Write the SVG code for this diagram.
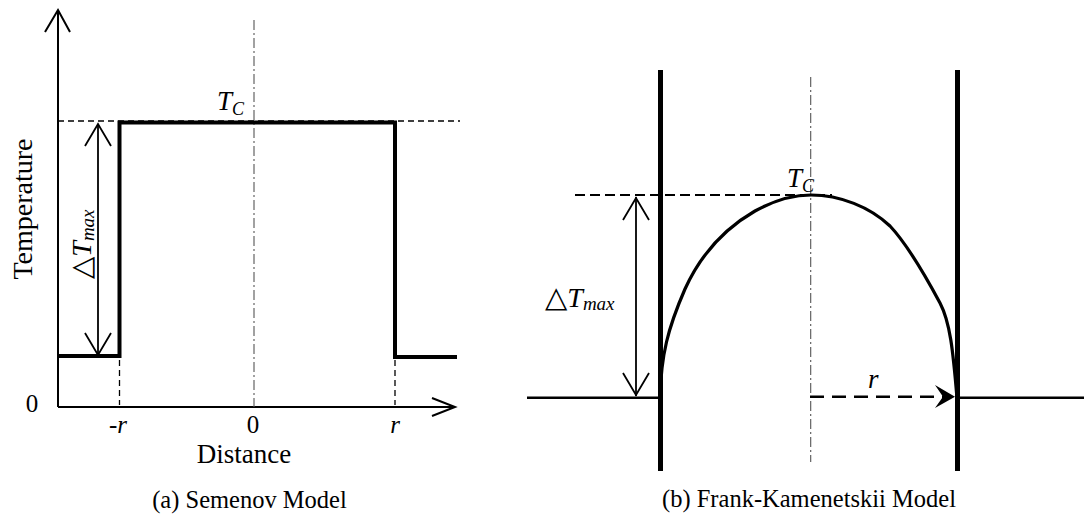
<svg xmlns="http://www.w3.org/2000/svg" width="1084" height="523" viewBox="0 0 1084 523">
<style>
.t{font-family:"Liberation Serif","Times New Roman",serif;fill:#000}
.i{font-style:italic}
.tri{font-family:"DejaVu Sans",sans-serif;font-size:29px}
.ax{stroke:#000;stroke-width:2;fill:none}
.thick{stroke:#000;stroke-width:4;fill:none}
.dash{stroke:#000;stroke-width:1.3;fill:none;stroke-dasharray:6 4}
.dd{stroke:#555;stroke-width:1.1;fill:none;stroke-dasharray:10 3 2 3}
.arr{stroke:#000;stroke-width:1.8;fill:none}
</style>
<rect width="1084" height="523" fill="#fff"/>
<g id="panel-a">
  <g id="axes-a">
    <line class="ax" x1="58" y1="407" x2="58" y2="10"/>
    <polyline class="ax" points="45,32 58,10 70,32"/>
    <line class="ax" x1="58" y1="407" x2="455" y2="407"/>
    <polyline class="ax" points="432,398 455,407 432,416"/>
  </g>
  <g id="guides-a">
    <line class="dash" x1="58" y1="121" x2="460" y2="121"/>
    <line class="dash" x1="119.5" y1="360" x2="119.5" y2="405"/>
    <line class="dash" x1="395" y1="360" x2="395" y2="405"/>
    <line class="dd" x1="254" y1="20" x2="254" y2="407"/>
  </g>
  <g id="step-profile">
    <path class="thick" d="M58,356 H119.5 V122.5 H395 V357 H457"/>
  </g>
  <g id="labels-a">
    <text class="t" x="32" y="412" font-size="25" text-anchor="middle">0</text>
    <text class="t i" x="118" y="433" font-size="25" text-anchor="middle">-r</text>
    <text class="t" x="253" y="433" font-size="25" text-anchor="middle">0</text>
    <text class="t i" x="395" y="433" font-size="25" text-anchor="middle">r</text>
    <text class="t" x="244" y="463" font-size="27" text-anchor="middle">Distance</text>
    <text class="t" transform="translate(32,209) rotate(-90)" font-size="28" text-anchor="middle">Temperature</text>
    <text class="t i" x="217" y="110" font-size="27">T<tspan font-size="18" dy="5">C</tspan></text>
    <text class="t" transform="translate(91,279) rotate(-90)" font-size="28"><tspan class="tri">△</tspan><tspan class="i">T</tspan><tspan class="i" font-size="19" dy="3">max</tspan></text>
    <text class="t" x="249.5" y="508" font-size="24.5" text-anchor="middle">(a) Semenov Model</text>
  </g>
</g>
<g id="panel-b">
  <g id="walls">
    <line x1="660.5" y1="70" x2="660.5" y2="471" stroke="#000" stroke-width="5"/>
    <line x1="957.5" y1="70" x2="957.5" y2="471" stroke="#000" stroke-width="5"/>
    <line x1="527" y1="397.7" x2="660" y2="397.7" stroke="#000" stroke-width="2.5"/>
    <line x1="957" y1="397.7" x2="1084" y2="397.7" stroke="#000" stroke-width="2.5"/>
  </g>
  <g id="guides-b">
    <line class="dd" x1="810.7" y1="77" x2="810.7" y2="462"/>
    <line x1="575" y1="195" x2="832" y2="195" stroke="#000" stroke-width="2" stroke-dasharray="10 5"/>
  </g>
  <g id="fk-profile">
    <path d="M660,398 C661,355 668,328 685,289 C700,256 722,230 755,211 C775,200 792,195 811,195 C840,195 870,207 890,226 C905,242 925,275 940,303 C950,322 953,350 957,398" fill="none" stroke="#000" stroke-width="3.2"/>
  </g>
  <g id="labels-b">
    <text class="t i" x="787" y="187" font-size="27">T<tspan font-size="18" dy="5">C</tspan></text>
    <text class="t" x="545" y="307" font-size="28"><tspan class="tri">△</tspan><tspan class="i">T</tspan><tspan class="i" font-size="19" dy="3">max</tspan></text>
    <text class="t i" x="868" y="388" font-size="27">r</text>
    <text class="t" x="809" y="507" font-size="24.5" text-anchor="middle">(b) Frank-Kamenetskii Model</text>
  </g>
</g>
<g id="connectors">
  <line class="arr" x1="98" y1="124" x2="98" y2="355"/>
  <polyline class="arr" points="85,146 98,124 111,146"/>
  <polyline class="arr" points="85,333 98,355 111,333"/>
  <line class="arr" x1="636" y1="197" x2="636" y2="396"/>
  <polyline class="arr" points="623,220 636,198 649,220"/>
  <polyline class="arr" points="623,373 636,395 649,373"/>
  <line x1="810" y1="396.7" x2="943" y2="396.7" stroke="#000" stroke-width="2.5" stroke-dasharray="14 8"/>
  <polygon points="955,396.7 935,385 943,396.7 935,408" fill="#000"/>
</g>
</svg>
